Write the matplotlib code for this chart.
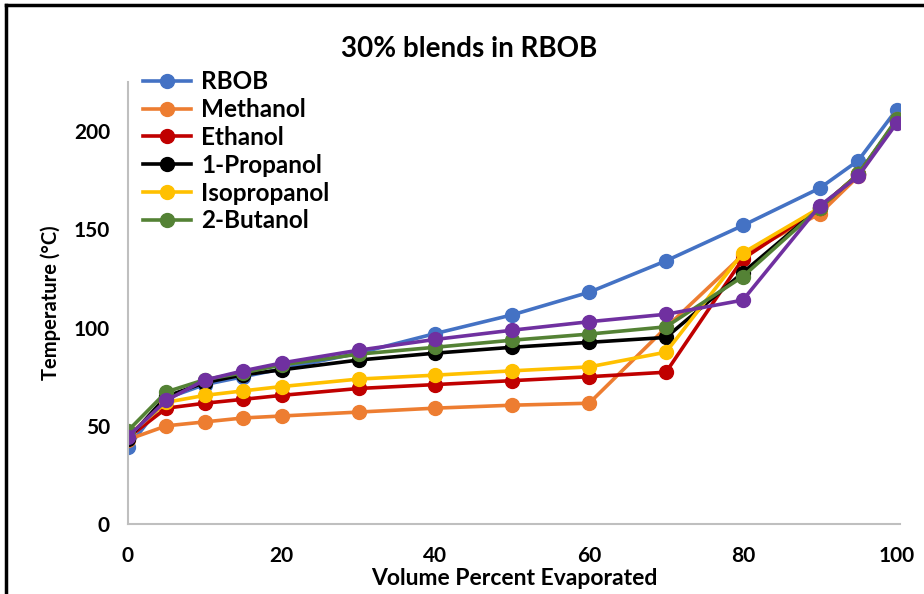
import matplotlib.pyplot as plt
from matplotlib.lines import Line2D

plt.rcParams['font.family'] = ['Lato', 'DejaVu Sans']

x = [0, 5, 10, 15, 20, 30, 40, 50, 60, 70, 80, 90, 95, 100]

rbob = [39, 64, 71, 75, 79, 87, 97, 106.5, 118, 134, 152, 171, 185, 211]
methanol = [43, 50, 52, 54, 55, 57, 59, 60.5, 61.5, 100, 137, 158, 177, 206]
ethanol = [44, 59, 61.5, 63.5, 65.5, 69, 71, 73, 75, 77.3, 135, 161, 178, 205]
propanol1 = [43.5, 65, 72, 76, 78.5, 83.5, 87, 90, 92.5, 95, 128, 161, 178, 205]
isopropanol = [45, 62, 65.5, 67.8, 70, 73.8, 75.8, 78, 80, 87.5, 138, 161, 178, 205]
butanol2 = [47.5, 67.3, 73.5, 77, 81, 86.5, 90, 93.6, 96.7, 100.4, 126, 161, 178, 206]
other = [44.5, 63, 73.3, 78, 82, 88.5, 94, 98.7, 103, 106.8, 114, 162, 177, 204]

names = ['RBOB', 'Methanol', 'Ethanol', '1-Propanol', 'Isopropanol', '2-Butanol']
series = [rbob, methanol, ethanol, propanol1, isopropanol, butanol2]
colors = ['#4472C4', '#ED7D31', '#C00000', '#000000', '#FFC000', '#548235']

fig = plt.figure(figsize=(9.24, 5.94), dpi=100)
ax = fig.add_axes([0.1385, 0.1178, 0.836, 0.744])

for ys, c, n in zip(series, colors, names):
    ax.plot(x, ys, color=c, lw=2.6, marker='o', ms=10, label=n)
ax.plot(x, other, color='#7030A0', lw=2.6, marker='o', ms=10)

ax.set_xlim(0, 100.5)
ax.set_ylim(0, 225)
ax.set_xticks([0, 20, 40, 60, 80, 100])
ax.set_yticks([0, 50, 100, 150, 200])
ax.tick_params(length=0, labelsize=15)
ax.tick_params(axis='x', pad=16)
ax.tick_params(axis='y', pad=13)
for lab in ax.get_xticklabels() + ax.get_yticklabels():
    lab.set_fontweight('bold')
for s in ['top', 'right']:
    ax.spines[s].set_visible(False)
for s in ['left', 'bottom']:
    ax.spines[s].set_color('#BFBFBF')
    ax.spines[s].set_linewidth(1.5)

ax.set_xlabel('Volume Percent Evaporated', fontsize=16.5, fontweight='bold', labelpad=1)
ax.set_ylabel('Temperature (°C)', fontsize=14.5, fontweight='bold', labelpad=9)
fig.text(0.508, 0.918, '30% blends in RBOB', ha='center', va='center',
         fontsize=20, fontweight='bold')

leg = ax.legend(loc='upper left', bbox_to_anchor=(0.0, 1.06), frameon=False,
                prop={'weight': 'bold', 'size': 17.5},
                handlelength=2.0, labelspacing=0.2, borderaxespad=0.2, handletextpad=0.4)

# border of the original screenshot
fig.add_artist(Line2D([6/924, 6/924], [0, 1 - 5/594], color='black', lw=2.5))
fig.add_artist(Line2D([6/924, 1], [1 - 5/594, 1 - 5/594], color='black', lw=2.5))

fig.savefig('out.png', dpi=100)
